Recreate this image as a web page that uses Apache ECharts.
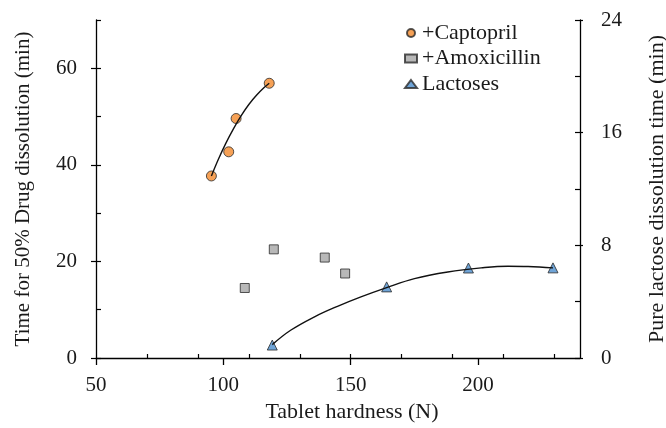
<!DOCTYPE html>
<html>
<head>
<meta charset="utf-8">
<script src="https://cdn.jsdelivr.net/npm/echarts@6/dist/echarts.min.js"></script>
<style>html,body{margin:0;padding:0;background:#fff}#c{width:666px;height:428px}</style>
</head>
<body>
<div id="c"></div>
<script>
// Data
const capX = [95.3, 102.1, 105.0, 118.0];
const capY = [37.7, 42.7, 49.6, 56.9];
const amoX = [108.4, 119.8, 139.8, 147.8];
const amoY = [14.5, 22.5, 20.8, 17.5];
const lacX = [119.2, 164.1, 196.2, 229.4];
const lacY = [0.92, 5.05, 6.39, 6.4];
// trend curves
const capFitX = [95.3, 98.0, 101.0, 104.0, 107.0, 110.0, 113.0, 116.0, 118.0];
const capFitY = [37.7, 41.1, 44.5, 47.5, 50.2, 52.5, 54.4, 56.0, 56.9];
const lacFitX = [119.2, 126.4, 135.6, 144.8, 154.0, 164.1, 175.0, 188.1, 201.2, 211.7, 219.6, 229.4];
const lacFitY = [0.95, 1.97, 2.91, 3.67, 4.34, 5.0, 5.64, 6.11, 6.4, 6.52, 6.5, 6.4];
// tick labels
const xLabels = [50, 100, 150, 200];
const xMinor = [70, 90, 110, 130, 150, 170, 190, 210, 230];
const yLeftTicks = [0, 10, 20, 30, 40, 50, 60, 70];
const yLeftLabels = [0, 20, 40, 60];
const yRightTicks = [0, 4, 8, 12, 16, 20, 24];
const yRightLabels = [0, 8, 16, 24];
const names = ['+Captopril', '+Amoxicillin', 'Lactoses'];

const zip = (a, b) => a.map((v, i) => [v, b[i]]);
const FONT = 'Liberation Serif';
const TXT = '#1a1a1a';
const AX = {lineStyle: {color: '#000', width: 1.3}};

const chart = echarts.init(document.getElementById('c'), null, {renderer: 'canvas'});
chart.setOption({
  animation: false,
  backgroundColor: '#fff',
  textStyle: {fontFamily: FONT},
  grid: {left: 96, right: 86, top: 20, bottom: 70, containLabel: false, outerBoundsMode: 'none'},
  legend: {
    data: names, orient: 'vertical', left: 399, top: 17,
    itemWidth: 12, itemHeight: 8, itemGap: 3.5,
    textStyle: {fontFamily: FONT, fontSize: 22, color: TXT}
  },
  xAxis: [{
    type: 'value', min: 50, max: 240, position: 'bottom',
    name: 'Tablet hardness (N)', nameLocation: 'middle', nameGap: 41,
    nameTextStyle: {fontFamily: FONT, fontSize: 22, color: TXT, padding: [0, 0, 0, 28]},
    axisLine: {show: true, onZero: false, ...AX},
    axisTick: {show: true, inside: false, length: 7, customValues: xLabels, lineStyle: {color: '#000', width: 1.3}},
    axisLabel: {customValues: xLabels, margin: 17, fontFamily: FONT, fontSize: 21, color: TXT},
    splitLine: {show: false}
  }, {
    type: 'value', min: 50, max: 240, position: 'bottom',
    axisLine: {show: false, onZero: false},
    axisTick: {show: true, inside: true, length: 4, customValues: xMinor, lineStyle: {color: '#000', width: 1.2}},
    axisLabel: {show: false, customValues: xMinor},
    splitLine: {show: false}
  }],
  yAxis: [{
    type: 'value', min: 0, max: 70, position: 'left',
    name: 'Time for 50% Drug dissolution (min)', nameLocation: 'middle', nameGap: 62, nameRotate: 90,
    nameTextStyle: {fontFamily: FONT, fontSize: 21, color: TXT},
    axisLine: {show: true, onZero: false, ...AX},
    axisTick: {show: true, inside: true, length: 5, customValues: yLeftTicks, lineStyle: {color: '#000', width: 1.2}},
    axisLabel: {customValues: yLeftLabels, margin: 19, fontFamily: FONT, fontSize: 21, color: TXT},
    splitLine: {show: false}
  }, {
    type: 'value', min: 0, max: 24, position: 'right',
    name: 'Pure lactose dissolution time (min)', nameLocation: 'middle', nameGap: 66, nameRotate: 90,
    nameTextStyle: {fontFamily: FONT, fontSize: 22, color: TXT},
    axisLine: {show: true, onZero: false, ...AX},
    axisTick: {show: true, inside: true, length: 5, customValues: yRightTicks, lineStyle: {color: '#000', width: 1.2}},
    axisLabel: {customValues: yRightLabels, margin: 21, fontFamily: FONT, fontSize: 21, color: TXT},
    splitLine: {show: false}
  }, {
    type: 'value', min: 0, max: 70, position: 'left',
    axisLine: {show: false, onZero: false},
    axisTick: {show: true, inside: false, length: 5, customValues: yLeftLabels, lineStyle: {color: '#000', width: 1.2}},
    axisLabel: {show: false, customValues: yLeftLabels},
    splitLine: {show: false}
  }, {
    type: 'value', min: 0, max: 24, position: 'right',
    axisLine: {show: false, onZero: false},
    axisTick: {show: true, inside: false, length: 3, customValues: yRightLabels, lineStyle: {color: '#000', width: 1.2}},
    axisLabel: {show: false, customValues: yRightLabels},
    splitLine: {show: false}
  }],
  series: [{
    name: names[0], type: 'scatter', xAxisIndex: 0, yAxisIndex: 0,
    data: zip(capX, capY), symbol: 'circle', symbolSize: 10, z: 3,
    itemStyle: {color: '#F4892C', borderColor: '#2a2a2a', borderWidth: 1}
  }, {
    name: names[1], type: 'scatter', xAxisIndex: 0, yAxisIndex: 0,
    data: zip(amoX, amoY), symbol: 'rect', symbolSize: 9, z: 3,
    itemStyle: {color: '#A6A6A6', borderColor: '#2a2a2a', borderWidth: 1}
  }, {
    name: names[2], type: 'scatter', xAxisIndex: 0, yAxisIndex: 1,
    data: zip(lacX, lacY), symbol: 'triangle', symbolSize: 10, z: 3,
    itemStyle: {color: '#4B8DCD', borderColor: '#2a2a2a', borderWidth: 1}
  }, {
    name: 'capFit', type: 'line', xAxisIndex: 0, yAxisIndex: 0,
    data: zip(capFitX, capFitY), showSymbol: false, smooth: 0.3, z: 4,
    lineStyle: {color: '#111', width: 1.4}, silent: true
  }, {
    name: 'lacFit', type: 'line', xAxisIndex: 0, yAxisIndex: 1,
    data: zip(lacFitX, lacFitY), showSymbol: false, smooth: 0.4, z: 4,
    lineStyle: {color: '#111', width: 1.4}, silent: true
  }]
});
</script>
</body>
</html>
